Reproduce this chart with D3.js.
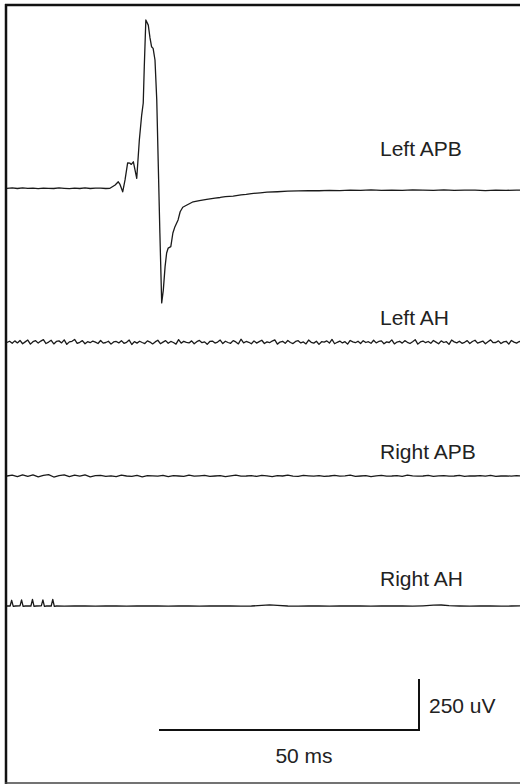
<!DOCTYPE html>
<html>
<head>
<meta charset="utf-8">
<script src="https://cdn.jsdelivr.net/npm/d3@7"></script>
<style>
  html, body { margin: 0; padding: 0; background: #fff; }
  svg { display: block; }
  text { font-family: "Liberation Sans", Arial, Helvetica, sans-serif; fill: #222; }
</style>
</head>
<body>
<script>
// Channel names, top to bottom
const channelNames = ["Left APB", "Left AH", "Right APB", "Right AH"];

// Left APB: compound muscle action potential, [time ms, amplitude uV]
const leftAPB = [
  [0,0],[1,2],[2,-1],[3,2],[4,0],[5,1],[6,-2],[7,1],[8,0],[9,-1],[10,2],[11,0],[12,-2],
  [13,1],[14,-1],[15,2],[16,-1],[17,1],[18,1],[19,-1],[19.8,0],
  [20.8,16],[21.4,32],[21.7,21],[22.25,-17],[22.7,41],[23.2,125],[23.65,123],[23.9,117],
  [24.3,130],[24.95,49],[25.45,237],[25.9,359],[26.2,418],[26.4,596],[26.7,825],
  [27.17,800],[27.5,737],[27.8,694],[28.1,686],[28.46,629],[28.8,433],[29.1,106],
  [29.4,-219],[29.75,-562],[30.06,-499],[30.4,-384],[30.7,-317],[31.0,-293],[31.5,-286],
  [31.9,-219],[32.3,-188],[32.9,-155],[33.3,-115],[33.8,-93],[34.6,-82],[35.8,-66],
  [37,-60],[38.4,-54],[40,-48],[41,-45],[42,-41],[43.5,-38],[45,-32],[46,-30],[47,-26],
  [48.7,-22],[50,-19],[52,-17],[54,-14],[56,-13],[58,-11],[60,-12],[62,-10],[64,-11],
  [66,-9],[68,-10],[70,-8],[72,-10],[74,-9],[76,-10],[78,-8],[80,-9],[82,-10],[84,-8],
  [86,-10],[88,-9],[90,-9],[92,-11],[94,-9],[96,-10],[98,-9],[100,-10]
];

// Left AH: baseline only, sampled every 0.5 ms (uV)
const leftAHStep = 0.5;
const leftAH = [
  0, 6, -4, 8, -2, 10, -6, 3, 12, -8, 4, 9, -3, 7, 14, -5, 2, 11, -7, 5,
  8, -2, 13, -9, 3, 6, 15, -4, 1, 9, -6, 4, -1, 7, 2, -5, 10, -3, 0, 6,
  -8, 3, 5, -2, 9, -4, 1, 12, -10, 4, -3, 6, 0, -5, 8, 2, -7, 3, 11, -6,
  2, 9, -4, 5, 0, -8, 14, -3, 6, 1, -2, 8, -6, 4, 10, -1, 3, -9, 5, 7,
  -3, 2, 12, -5, 6, 0, -4, 9, 3, -7, 16, -2, 5, 1, -6, 8, -3, 4, 11, -5,
  3, -1, 7, 13, -8, 2, 6, -4, 10, 0, -5, 5, 9, -2, 3, -7, 12, 1, -3, 6,
  -9, 4, 2, 8, -3, 15, -6, 1, 7, -2, 4, -8, 10, 3, -1, 6, -5, 9, 0, 4,
  -4, 11, -2, 5, 8, -6, 3, 0, 13, -7, 2, 6, -3, 9, 1, -5, 4, 14, -8, 3,
  7, -1, 5, -4, 10, 2, -6, 8, 0, 4, -9, 12, 3, -2, 6, -4, 1, 9, -5, 5,
  11, -3, 2, 7, -6, 4, 13, -1, 0, 8, -5, 3, 6, -8, 10, 2, -3, 5, 1, -2,
  4
];

// Right APB: baseline only, sampled every 1 ms (uV)
const rightAPBStep = 1;
const rightAPB = [
  0, 4, -3, 6, -2, 5, -4, 3, 7, -5, 2, 6, -3, 4, -1, 5, -4, 2, 3, -2,
  1, -3, 4, 0, -2, 3, -4, 2, 1, -1, 3, -3, 2, 0, -2, 4, -1, 1, 3, -2,
  0, 2, -3, 1, 4, -1, 0, 2, -2, 3, 1, -3, 2, 0, 4, -1, -2, 3, 1, -1,
  2, -2, 0, 3, -1, 1, 4, -2, 0, 2, -3, 1, 3, -1, 0, 2, -2, 4, 1, -1,
  0, 3, -2, 1, 2, -1, 0, 3, -2, 1, 0, 2, -1, 3, -2, 0, 1, -1, 2, 0,
  1
];

// Right AH: stimulus artefacts at the start, then a quiet baseline, [time ms, uV]
const rightAH = [
  [0,0],[0.6,0],[0.9,28],[1.2,-2],[1.6,0],[2.5,1],[2.8,30],[3.1,-2],[3.5,0],
  [4.6,0],[4.9,32],[5.2,-2],[5.6,0],[6.6,1],[6.9,30],[7.2,-2],[7.6,0],
  [8.5,0],[8.8,32],[9.1,-2],[9.5,0],
  [11,-1],[13,0],[15,1],[17,-1],[19,0],[21,1],[23,-1],[25,0],[27,1],[29,0],[31,-1],
  [33,1],[35,0],[37,-1],[39,0],[41,1],[43,0],[45,-1],[47,0],[49,3],[50.5,6],[52,3],
  [54,0],[56,-1],[58,0],[60,1],[62,-1],[64,0],[66,1],[68,0],[70,-1],[72,0],[74,1],
  [76,0],[78,-1],[80,1],[82,4],[83.5,5],[85,2],[87,0],[89,-1],[91,0],[93,1],[95,-1],
  [97,0],[99,1],[100,0]
];

// Calibration bar values
const scaleBarTime = 50;   // ms
const scaleBarAmp = 250;   // uV
const scaleBarTimeLabel = "50 ms";
const scaleBarAmpLabel = "250 uV";

// ---- layout ----
const W = 520, H = 784;
const fontSize = 21;
const channelBaselines = [188.3, 342.5, 476, 606];
const labelX = 380;
const labelBaselines = [156, 325, 459, 586];

const svg = d3.select("body").append("svg")
  .attr("width", W).attr("height", H);

const x = d3.scaleLinear().domain([0, 100]).range([7, 527]);
const y = d3.scaleLinear().domain([0, 250]).range([0, -51]);

const line = d3.line().x(d => x(d[0])).y(d => y(d[1]));

const sampled = (vals, step) => vals.map((v, i) => [i * step, v]);

const traces = [
  leftAPB,
  sampled(leftAH, leftAHStep),
  sampled(rightAPB, rightAPBStep),
  rightAH
];

svg.append("clipPath").attr("id", "plotClip")
  .append("rect").attr("x", 7).attr("y", 6).attr("width", W - 7).attr("height", H - 8);

const plot = svg.append("g").attr("clip-path", "url(#plotClip)");

traces.forEach((data, i) => {
  plot.append("g")
    .attr("transform", `translate(0,${channelBaselines[i]})`)
    .append("path")
    .datum(data)
    .attr("d", line)
    .attr("fill", "none")
    .attr("stroke", "#1a1a1a")
    .attr("stroke-width", 1.3)
    .attr("stroke-linejoin", "round");

  svg.append("text")
    .attr("x", labelX)
    .attr("y", labelBaselines[i])
    .attr("font-size", fontSize)
    .text(channelNames[i]);
});

// Calibration bar: corner at bottom right
const barRight = 419, barBottom = 730;
const barLen = x(scaleBarTime) - x(0);
const barHeight = -y(scaleBarAmp);
svg.append("path")
  .attr("d", `M${barRight - barLen},${barBottom}H${barRight}V${barBottom - barHeight}`)
  .attr("fill", "none")
  .attr("stroke", "#111")
  .attr("stroke-width", 2);

svg.append("text")
  .attr("x", 304)
  .attr("y", 763)
  .attr("text-anchor", "middle")
  .attr("font-size", fontSize)
  .text(scaleBarTimeLabel);

svg.append("text")
  .attr("x", barRight + 10)
  .attr("y", 713)
  .attr("font-size", fontSize)
  .text(scaleBarAmpLabel);

// Frame (left, top, bottom edges)
svg.append("line").attr("x1", 6).attr("x2", 6).attr("y1", 4).attr("y2", 784)
  .attr("stroke", "#111").attr("stroke-width", 2.5);
svg.append("line").attr("x1", 5).attr("x2", W).attr("y1", 5).attr("y2", 5)
  .attr("stroke", "#111").attr("stroke-width", 2.5);
svg.append("line").attr("x1", 5).attr("x2", W).attr("y1", 783).attr("y2", 783)
  .attr("stroke", "#444").attr("stroke-width", 1.5);
</script>
</body>
</html>
